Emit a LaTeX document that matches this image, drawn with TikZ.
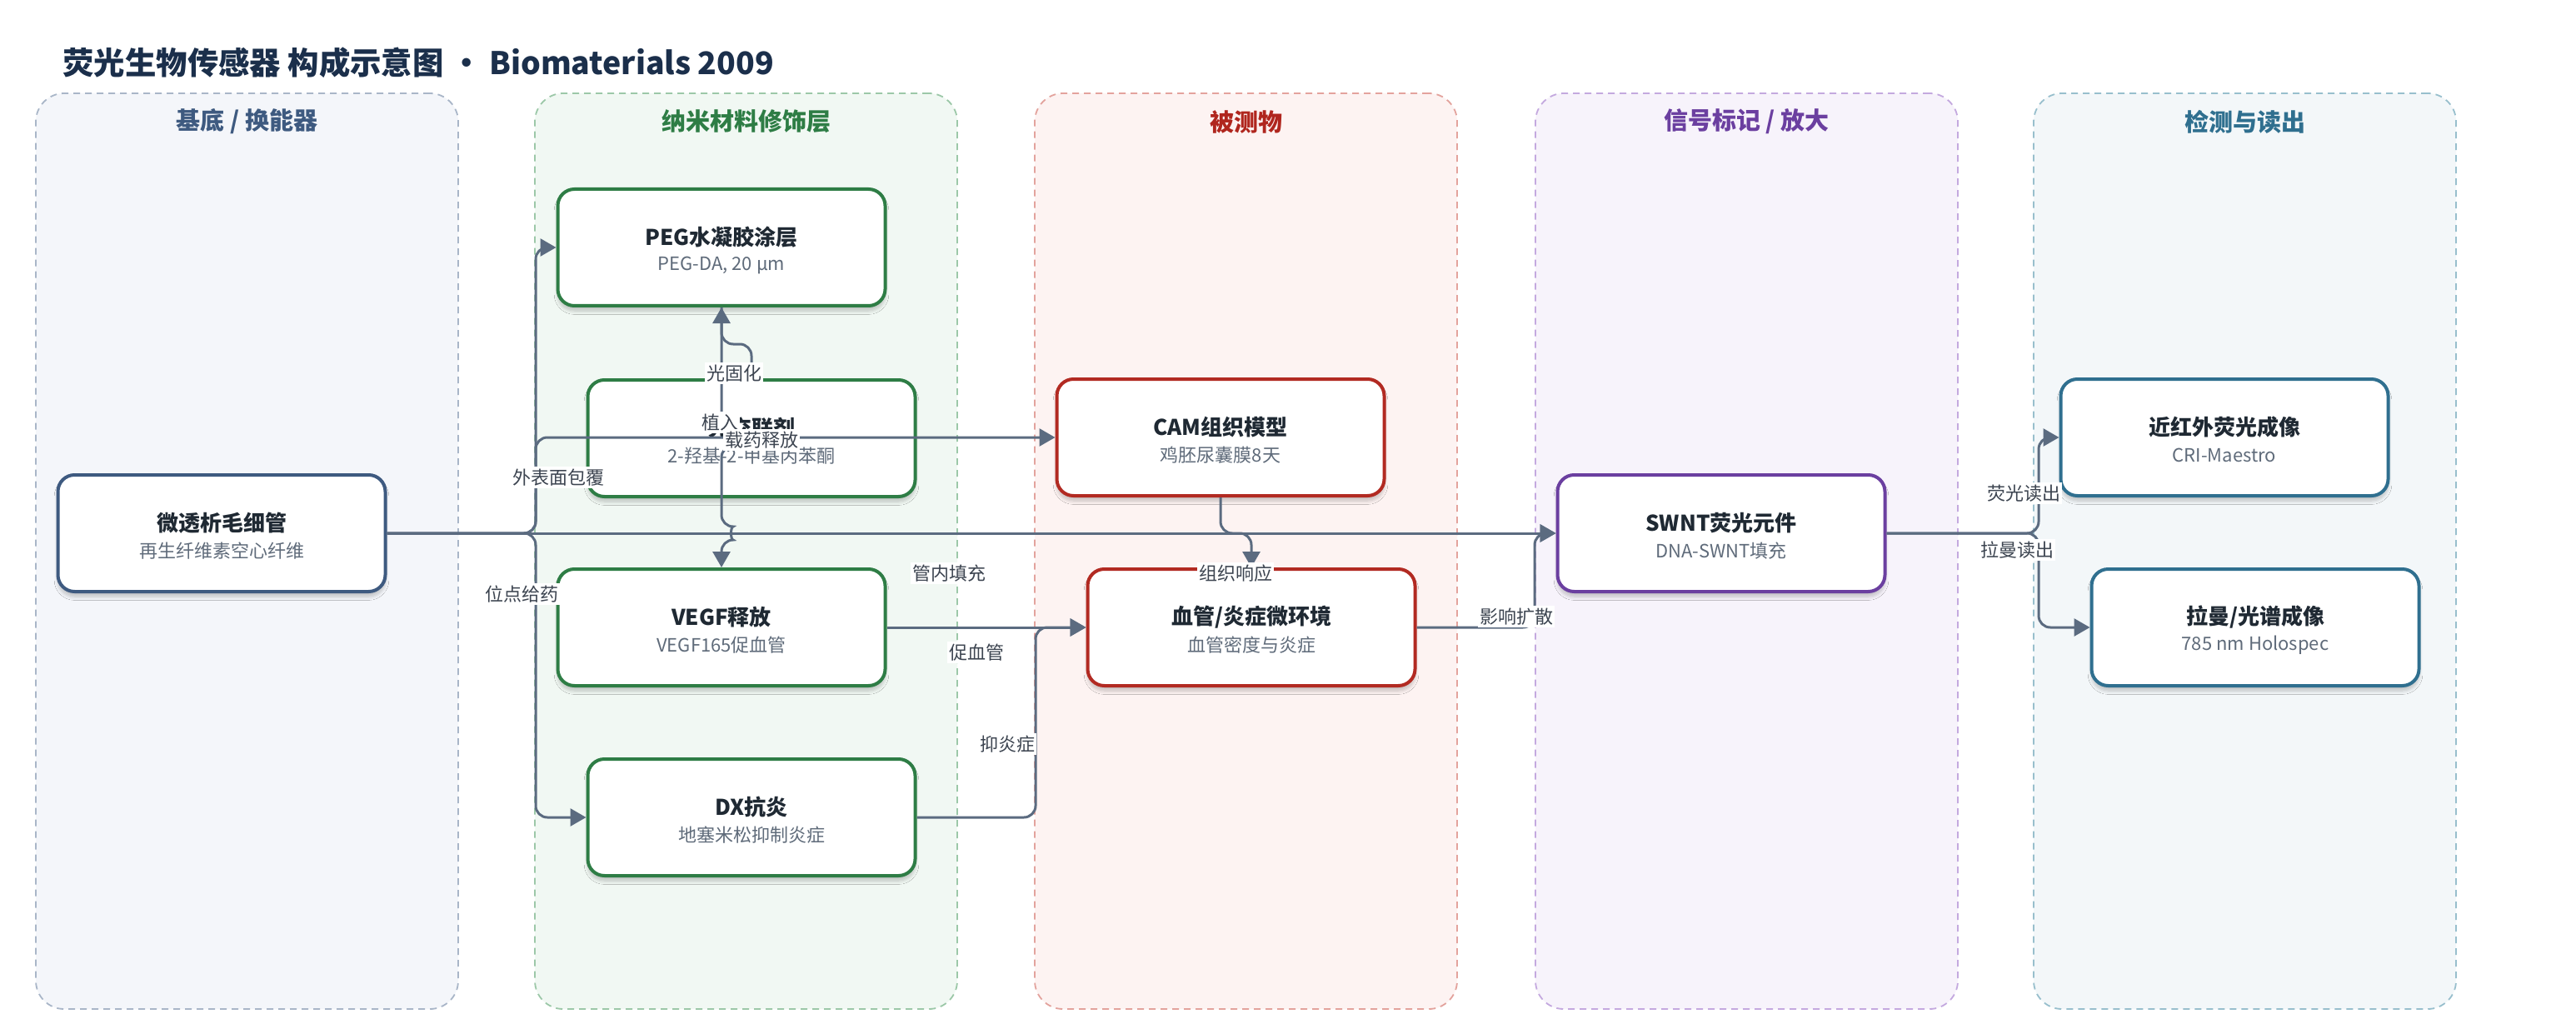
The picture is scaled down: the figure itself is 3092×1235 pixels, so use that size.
\documentclass[tikz,border=0pt]{standalone}
\usepackage{fontspec}
\setmainfont{Noto Sans CJK SC}
\usetikzlibrary{arrows.meta,shadows.blur,calc}
\definecolor{c1b}{HTML}{A9B6C8}\definecolor{c1f}{HTML}{F4F6FA}\definecolor{c1h}{HTML}{3E5A80}
\definecolor{c2b}{HTML}{9CC8A8}\definecolor{c2f}{HTML}{F1F8F3}\definecolor{c2h}{HTML}{2E7D45}
\definecolor{c3b}{HTML}{E3A39D}\definecolor{c3f}{HTML}{FDF3F2}\definecolor{c3h}{HTML}{B0261E}
\definecolor{c4b}{HTML}{C4A9DF}\definecolor{c4f}{HTML}{F7F3FB}\definecolor{c4h}{HTML}{6B3FA0}
\definecolor{c5b}{HTML}{98BFCD}\definecolor{c5f}{HTML}{F3F7F9}\definecolor{c5h}{HTML}{2F6F8F}
\definecolor{n1}{HTML}{3E5A80}\definecolor{n2}{HTML}{2E7D45}\definecolor{n3}{HTML}{B22A22}
\definecolor{n4}{HTML}{6B3FA0}\definecolor{n5}{HTML}{2F6F8F}
\definecolor{edgec}{HTML}{5B6B80}\definecolor{ttlc}{HTML}{1F2933}
\definecolor{subc}{HTML}{5F6B7A}\definecolor{lblc}{HTML}{3C4450}\definecolor{titlec}{HTML}{1B2F4B}
\tikzset{
  colbox/.style={rectangle, rounded corners=17pt, dash pattern=on 4pt off 3pt, line width=0.9pt,
    minimum width=253.5pt, minimum height=549.5pt, inner sep=0pt},
  colhead/.style={font=\fontsize{14.5}{17}\selectfont\bfseries},
  nodebox/.style={rectangle, rounded corners=10pt, line width=2pt, fill=white,
    minimum width=196.5pt, minimum height=70pt, inner sep=0pt,
    blur shadow={shadow xshift=0pt, shadow yshift=-3pt, shadow blur steps=8, shadow opacity=22}},
  ttl/.style={font=\fontsize{13}{15}\selectfont\bfseries, text=ttlc, inner sep=0pt},
  subt/.style={font=\fontsize{11}{13}\selectfont, text=subc, inner sep=0pt},
  conn/.style={draw=edgec, line width=1.5pt, rounded corners=7pt, -{Triangle[length=9.5pt,width=10.5pt]}},
  lbl/.style={fill=white, inner sep=1.2pt, font=\fontsize{11}{13}\selectfont, text=lblc},
}
\newcommand\mybox[6]{%
  \node[nodebox, draw=#4] (#1) at (#2,#3) {};
  \node[ttl] (#1-t) at (#2,#3-12) {#5};
  \node[subt] (#1-s) at (#2,#3+21) {#6};
}
\begin{document}
\begin{tikzpicture}[x=0.5pt,y=-0.5pt]
\useasboundingbox[fill=white] (0,0) rectangle (3092,1235);
% title
\node[anchor=west, text=titlec, font=\fontsize{18.7}{22}\selectfont\bfseries, inner sep=0pt] (title) at (75,75)
  {荧光生物传感器 构成示意图 • Biomaterials 2009};
% columns
\node[colbox, draw=c1b, fill=c1f] (col1) at (296.5,661.5) {};
\node[colbox, draw=c2b, fill=c2f] (col2) at (895.5,661.5) {};
\node[colbox, draw=c3b, fill=c3f] (col3) at (1495.5,661.5) {};
\node[colbox, draw=c4b, fill=c4f] (col4) at (2096.5,661.5) {};
\node[colbox, draw=c5b, fill=c5f] (col5) at (2694.5,661.5) {};
\node[colhead, text=c1h] (h1) at (296.5,146) {基底 / 换能器};
\node[colhead, text=c2h] (h2) at (895.5,146) {纳米材料修饰层};
\node[colhead, text=c3h] (h3) at (1495.5,146) {被测物};
\node[colhead, text=c4h] (h4) at (2096.5,146) {信号标记 / 放大};
\node[colhead, text=c5h] (h5) at (2694.5,146) {检测与读出};
% nodes
\mybox{cap}{266}{640}{n1}{微透析毛细管}{再生纤维素空心纤维}
\mybox{peg}{866}{297}{n2}{PEG水凝胶涂层}{PEG-DA, 20 μm}
\mybox{pi}{902}{526}{n2}{光交联剂}{2-羟基-2-甲基丙苯酮}
\mybox{vegf}{866}{753}{n2}{VEGF释放}{VEGF165促血管}
\mybox{dx}{902}{981}{n2}{DX抗炎}{地塞米松抑制炎症}
\mybox{cam}{1465}{525}{n3}{CAM组织模型}{鸡胚尿囊膜8天}
\mybox{micro}{1502}{753}{n3}{血管/炎症微环境}{血管密度与炎症}
\mybox{swnt}{2066}{640}{n4}{SWNT荧光元件}{DNA-SWNT填充}
\mybox{nir}{2670}{525}{n5}{近红外荧光成像}{CRI-Maestro}
\mybox{raman}{2707}{753}{n5}{拉曼/光谱成像}{785 nm Holospec}
% connectors
\coordinate (trunk) at (643,640);
\draw[conn] (cap.east) -- (trunk) |- (peg.west);
\draw[conn] (cap.east) -- (trunk) |- (cam.west);
\draw[conn] (cap.east) -- (trunk) |- (dx.west);
\draw[conn] (cap.east) -- (swnt.west);
\draw[conn] (pi.north) -- (902,413) -| (peg.south);
\draw[conn] (peg.south) -- (866,519) .. controls (876.7,519) and (876.7,535) .. (866,535)
   -- (866,632) .. controls (876.7,632) and (876.7,648) .. (866,648) -- (vegf.north);
\draw[conn] (cam.south) |- (1502,640) -- (micro.north);
\draw[conn] (vegf.east) -- (micro.west);
\draw[conn] (dx.east) -- (1243,981) |- (micro.west);
\draw[conn] (micro.east) -- (1842,753) |- (swnt.west);
\draw[conn] (swnt.east) -- (2447,640) |- (nir.west);
\draw[conn] (swnt.east) -- (2447,640) |- (raman.west);
% labels
\node[lbl] (l1) at (670,573) {外表面包覆};
\node[lbl] (l2) at (864,507) {植入};
\node[lbl] (l3) at (914,528) {载药释放};
\node[lbl] (l4) at (881,448) {光固化};
\node[lbl] (l5) at (626,713) {位点给药};
\node[lbl] (l6) at (1139,688) {管内填充};
\node[lbl] (l7) at (1172,783) {促血管};
\node[lbl] (l8) at (1209,893) {抑炎症};
\node[lbl] (l9) at (1483,688) {组织响应};
\node[lbl] (l10) at (1820,740) {影响扩散};
\node[lbl] (l11) at (2429,592) {荧光读出};
\node[lbl] (l12) at (2421,660) {拉曼读出};
\end{tikzpicture}
\end{document}
